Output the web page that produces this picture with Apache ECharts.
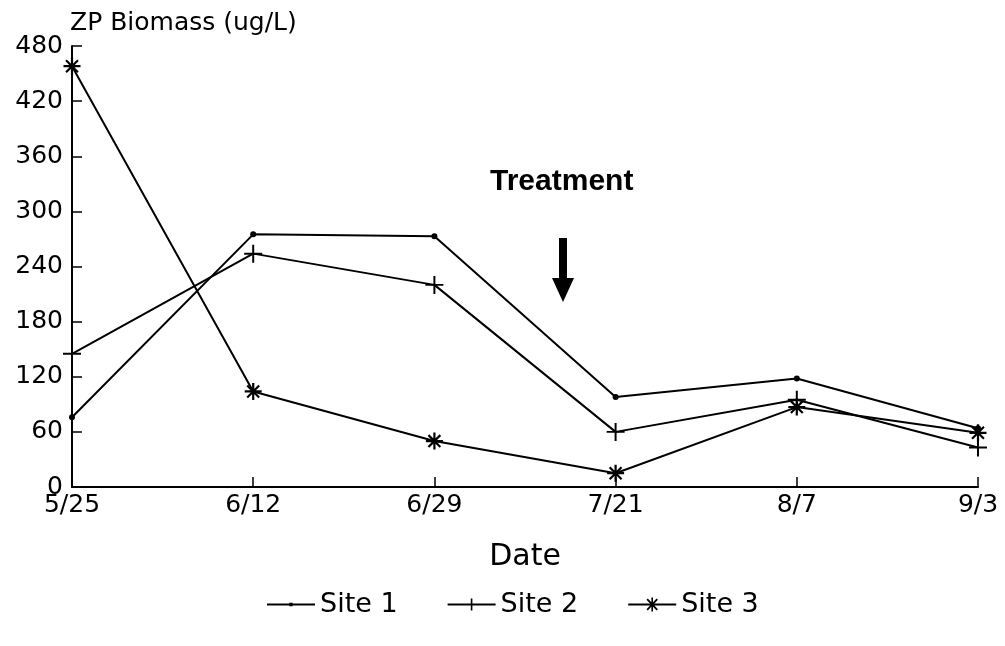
<!DOCTYPE html>
<html><head><meta charset="utf-8">
<script src="https://cdn.jsdelivr.net/npm/echarts@6/dist/echarts.min.js"></script>
<style>html,body{margin:0;padding:0;background:#fff}#c{width:1005px;height:646px}</style>
</head><body><div id="c"></div>
<script>
const dates = ['5/25','6/12','6/29','7/21','8/7','9/3'];
const site1 = [76, 275, 273, 98, 118, 64];
const site2 = [145, 254, 220, 60, 95, 43];
const site3 = [458, 104, 50, 15, 87, 59];
const yTicks = [0, 60, 120, 180, 240, 300, 360, 420, 480];

const FONT = 'DejaVu Sans';
const plus = 'path://M-1.1,-10L1.1,-10L1.1,10L-1.1,10Z M-10,-1.1L10,-1.1L10,1.1L-10,1.1Z';
const star = 'path://M-1.3,-10L1.3,-10L1.3,10L-1.3,10Z M-10,-1.3L10,-1.3L10,1.3L-10,1.3Z M-7.9,-6.1L-6.1,-7.9L7.9,6.1L6.1,7.9Z M6.1,-7.9L7.9,-6.1L-6.1,7.9L-7.9,6.1Z';
// legend icons in a 48 x 16 box: line through the middle plus the marker
const lg1 = 'path://M0,7.1L48,7.1L48,8.9L0,8.9Z M22.3,6.2L25.7,6.2L25.7,9.8L22.3,9.8Z';
const lg2 = 'path://M0,7.1L48,7.1L48,8.9L0,8.9Z M23.2,2L24.8,2L24.8,14L23.2,14Z';
const lg3 = 'path://M0,7.1L48,7.1L48,8.9L0,8.9Z M23.2,1L24.8,1L24.8,15L23.2,15Z M18.3,3.3L19.6,2.1L29.7,12.7L28.4,13.9Z M28.4,2.1L29.7,3.3L19.6,13.9L18.3,12.7Z';

function mk(name, data, symbol, size){
  return {name, type:'line', data, symbol, symbolSize:size, showAllSymbol:true,
    lineStyle:{color:'#000', width:2}, itemStyle:{color:'#000', borderWidth:0},
    emphasis:{disabled:true}, animation:false};
}
const chart = echarts.init(document.getElementById('c'));
chart.setOption({
  backgroundColor:'#fff',
  animation:false,
  grid:{left:72, right:27, top:46, bottom:159},
  legend:{bottom:23, left:262, itemWidth:48, itemHeight:16, itemGap:50,
    textStyle:{fontFamily:FONT, fontSize:27, color:'#000'},
    data:[{name:'Site 1', icon:lg1},{name:'Site 2', icon:lg2},{name:'Site 3', icon:lg3}]},
  xAxis:{type:'category', data:dates, boundaryGap:false,
    name:'Date', nameLocation:'middle', nameGap:55,
    nameTextStyle:{fontFamily:FONT, fontSize:30, color:'#000'},
    axisLine:{lineStyle:{color:'#000', width:2}},
    axisTick:{inside:true, length:10, lineStyle:{color:'#000', width:1.5}},
    axisLabel:{fontFamily:FONT, fontSize:25, color:'#000', margin:6},
    splitLine:{show:false}},
  yAxis:{type:'value', min:yTicks[0], max:yTicks[yTicks.length-1], interval:60,
    name:'ZP Biomass (ug/L)', nameLocation:'end', nameGap:10,
    nameTextStyle:{fontFamily:FONT, fontSize:25, color:'#000', align:'left', padding:[0,0,0,-2]},
    axisLine:{show:true, lineStyle:{color:'#000', width:2}},
    axisTick:{show:true, inside:true, length:10, lineStyle:{color:'#000', width:1.5}},
    axisLabel:{fontFamily:FONT, fontSize:25, color:'#000', margin:9},
    splitLine:{show:false}},
  graphic:[
    {type:'text', left:490, top:167, style:{text:'Treatment', font:'bold 30px "Liberation Sans", Arial', fill:'#000'}},
    {type:'rect', shape:{x:559, y:238, width:8, height:42}, style:{fill:'#000'}},
    {type:'polygon', shape:{points:[[552,278],[574,278],[563,302]]}, style:{fill:'#000'}}
  ],
  series:[
    mk('Site 1', site1, 'circle', 6),
    mk('Site 2', site2, plus, 18),
    mk('Site 3', site3, star, 17)
  ]
});
</script></body></html>
